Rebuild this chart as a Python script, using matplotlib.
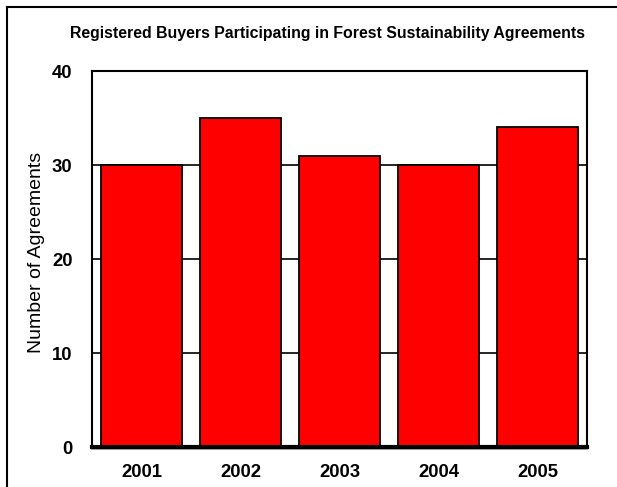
import matplotlib
matplotlib.use("Agg")
import matplotlib.pyplot as plt
from matplotlib.lines import Line2D

years = ["2001", "2002", "2003", "2004", "2005"]
agreements = [30, 35, 31, 30, 34]
yticks = [0, 10, 20, 30, 40]

plt.rcParams['font.family'] = ['Liberation Sans', 'DejaVu Sans']

fig = plt.figure(figsize=(6.17, 4.87), dpi=100)
ax = fig.add_axes([92/617, 1-447/487, (587-92)/617, (447-71)/487])

x = range(len(years))
ax.bar(x, agreements, width=0.82, color="#ff0000", edgecolor="black", linewidth=1.3, zorder=3)

ax.set_xlim(-0.5, len(years)-0.5)
ax.set_ylim(0, 40)
ax.set_yticks(yticks)
ax.set_yticklabels([str(v) for v in yticks], fontsize=13.3, fontweight="bold")
ax.set_xticks(list(x))
ax.set_xticklabels(years, fontsize=13.3, fontweight="bold")
ax.tick_params(axis="both", length=0)
ax.tick_params(axis="y", pad=14)
ax.tick_params(axis="x", pad=12)
for v in yticks[1:-1]:
    ax.axhline(v, color="black", linewidth=1.2, zorder=1)

for s in ["top", "left", "right"]:
    ax.spines[s].set_linewidth(1.5)
    ax.spines[s].set_color("black")
ax.spines["bottom"].set_linewidth(3)
ax.spines["bottom"].set_zorder(4)
# subtle shadow
ax.plot([0, 1], [-0.006, -0.006], transform=ax.transAxes, color="#999999", linewidth=1.2, clip_on=False, zorder=2)

ax.set_ylabel("Number of Agreements", fontsize=14)
ax.yaxis.set_label_coords(-(92-45)/495, 0.518)

fig.text(0.53, 1-33/487, "Registered Buyers Participating in Forest Sustainability Agreements",
         ha="center", va="center", fontsize=11.4, fontweight="bold")

# partial figure frame (top and left)
fig.add_artist(Line2D([7/617, 1.0], [1-7/487, 1-7/487], color="black", linewidth=1.5, transform=fig.transFigure))
fig.add_artist(Line2D([7/617, 7/617], [0, 1-7/487], color="black", linewidth=1.5, transform=fig.transFigure))

fig.savefig("out.png", dpi=100)
